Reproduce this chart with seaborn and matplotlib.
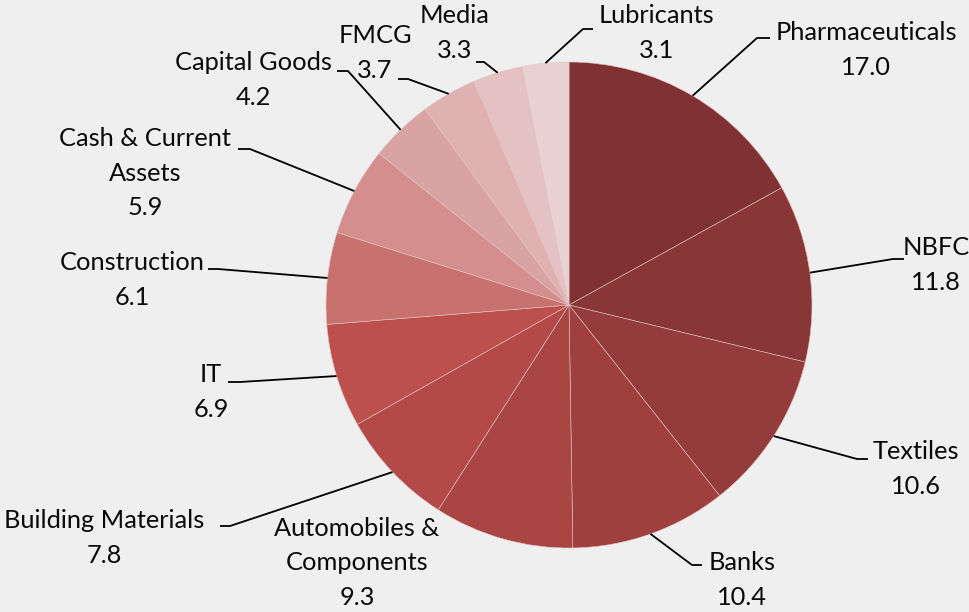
import matplotlib
matplotlib.use("Agg")
import matplotlib.pyplot as plt
import seaborn as sns
import numpy as np

sectors = ["Pharmaceuticals", "NBFC", "Textiles", "Banks", "Automobiles &\nComponents",
           "Building Materials", "IT", "Construction", "Cash & Current\nAssets",
           "Capital Goods", "FMCG", "Media", "Lubricants"]
weights = [17.0, 11.8, 10.6, 10.4, 9.3, 7.8, 6.9, 6.1, 5.9, 4.2, 3.7, 3.3, 3.1]
value_labels = ["17.0", "11.8", "10.6", "10.4", "9.3", "7.8", "6.9", "6.1", "5.9",
                "4.2", "3.7", "3.3", "3.1"]
colors = ["#7f3133", "#893636", "#943b3b", "#9f403f", "#a94543", "#b34a48", "#bd4f4c",
          "#c87270", "#d38e8d", "#daa3a3", "#dfb1b1", "#e4c1c2", "#e9d1d2"]

sns.set_theme(style="white")
plt.rcParams["font.family"] = ["Lato", "DejaVu Sans"]

W, H = 970, 612
fig = plt.figure(figsize=(W / 100, H / 100), dpi=100)
bg = "#efefef"
fig.patch.set_facecolor(bg)
ax = fig.add_axes([0, 0, 1, 1])
ax.set_facecolor(bg)
ax.set_xlim(0, W)
ax.set_ylim(0, H)
ax.set_aspect("equal")
ax.axis("off")

cx, cy, R = 569, H - 305, 243
wedges, _ = ax.pie(weights, colors=colors, startangle=90, counterclock=False,
                   center=(cx, cy), radius=R,
                   wedgeprops=dict(edgecolor="#e3c3c3", linewidth=0.4))
ax.set_xlim(0, W)
ax.set_ylim(0, H)

# label layout in pixel coords (y from top): text center, elbow point, horizontal end
layout = [
    ((866, 50), (757, 38), (770, 38)),
    ((936, 265), (893, 259), (904, 259)),
    ((916, 469), (857, 459), (868, 459)),
    ((742, 580), (692, 565), (702, 565)),
    ((357, 563), None, None),
    ((104, 538), (230, 526), (220, 526)),
    ((211, 392), (240, 382), (228, 382)),
    ((132, 280), (218, 269), (208, 269)),
    ((145, 173), (250, 149), (238, 149)),
    ((253, 80), (348, 71), (337, 71)),
    ((375, 53), (408, 79), (398, 79)),
    ((455, 33), (484, 62), (476, 62)),
    ((656, 33), (583, 29), (593, 29)),
]

for w, name, val, (tpos, elbow, hend) in zip(wedges, sectors, value_labels, layout):
    ang = np.deg2rad((w.theta1 + w.theta2) / 2)
    ex, ey = cx + R * np.cos(ang), cy + R * np.sin(ang)
    ax.text(tpos[0], H - tpos[1], f"{name}\n{val}", ha="center", va="center",
            fontsize=18.3, color="#0a0a0a", linespacing=1.58)
    if elbow is not None:
        ax.plot([ex, elbow[0], hend[0]], [ey, H - elbow[1], H - hend[1]],
                color="black", lw=1.3, solid_capstyle="butt")

fig.savefig("out.png", dpi=100, facecolor=bg)
